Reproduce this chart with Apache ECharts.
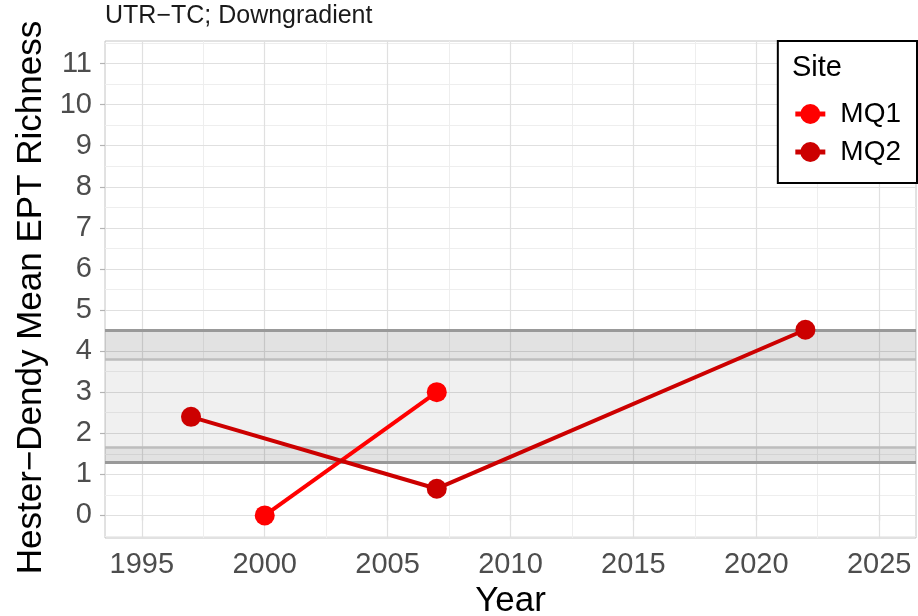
<!DOCTYPE html>
<html>
<head>
<meta charset="utf-8">
<title>Hester-Dendy Mean EPT Richness</title>
<script src="https://cdn.jsdelivr.net/npm/echarts@6/dist/echarts.min.js"></script>
<style>
  html, body { margin: 0; padding: 0; background: #fff; }
  #main { width: 918px; height: 616px; }
</style>
</head>
<body>
<div id="main"></div>
<script>
// site data
var mq1Years = [2000, 2007];
var mq1Values = [0, 3];
var mq2Years = [1997, 2007, 2022];
var mq2Values = [2.4, 0.65, 4.52];

// reference band (outer = dark edges, inner = light edges)
var bandOuter = [1.29, 4.52];
var bandInner = [1.65, 3.8];

// axis breaks
var xTicks = [1995, 2000, 2005, 2010, 2015, 2020, 2025];
var xMinor = [1997.5, 2002.5, 2007.5, 2012.5, 2017.5, 2022.5];
var yTicks = [0, 1, 2, 3, 4, 5, 6, 7, 8, 9, 10, 11];
var yMinor = [-0.5, 0.5, 1.5, 2.5, 3.5, 4.5, 5.5, 6.5, 7.5, 8.5, 9.5, 10.5, 11.5];

var FONT = "'Liberation Sans', Arial, Helvetica, sans-serif";
var myChart = echarts.init(document.getElementById('main'), null, { renderer: 'canvas' });

function toPairs (xs, ys) {
  var out = [];
  for (var i = 0; i < xs.length; i++) {
    out.push([xs[i], ys[i]]);
  }
  return out;
}

// panel grid lines, drawn as mark lines so they follow the ggplot breaks
function gridLineData () {
  var lines = [];
  var minor = { color: '#eeeeee', width: 1, type: 'solid' };
  var major = { color: '#e0e0e0', width: 1.2, type: 'solid' };
  xMinor.forEach(function (v) { lines.push({ xAxis: v, lineStyle: minor }); });
  yMinor.forEach(function (v) { lines.push({ yAxis: v, lineStyle: minor }); });
  xTicks.forEach(function (v) { lines.push({ xAxis: v, lineStyle: major }); });
  yTicks.forEach(function (v) { lines.push({ yAxis: v, lineStyle: major }); });
  return lines;
}

var option = {
  animation: false,
  backgroundColor: '#ffffff',
  grid: {
    left: 105,
    right: 2,
    top: 41,
    bottom: 78,
    containLabel: false,
    outerBoundsMode: 'none',
    show: true,
    borderColor: '#c4c4c4',
    borderWidth: 1,
    backgroundColor: '#ffffff'
  },
  graphic: [
    {
      type: 'text',
      x: 105,
      y: 16,
      style: { text: 'UTR−TC; Downgradient', font: '25px ' + FONT, fill: '#1a1a1a', verticalAlign: 'middle' }
    },
    {
      type: 'text',
      x: 792,
      y: 68,
      z: 100,
      style: { text: 'Site', font: '29px ' + FONT, fill: '#000000', verticalAlign: 'middle' }
    }
  ],
  legend: {
    data: ['MQ1', 'MQ2'],
    orient: 'vertical',
    right: 1,
    top: 41,
    z: 50,
    padding: [59, 16, 17, 15],
    itemGap: 10,
    itemWidth: 30,
    itemHeight: 25,
    borderColor: '#000000',
    borderWidth: 2,
    backgroundColor: '#ffffff',
    lineStyle: { width: 5 },
    textStyle: {
      fontFamily: FONT,
      fontSize: 28,
      color: '#000000',
      padding: [0, 0, 0, 10]
    }
  },
  xAxis: {
    type: 'value',
    min: 1993.5,
    max: 2026.5,
    name: 'Year',
    nameLocation: 'middle',
    nameGap: 46,
    nameTextStyle: { fontFamily: FONT, fontSize: 35, color: '#000000' },
    axisLine: { show: false },
    splitLine: { show: false },
    axisTick: {
      show: true,
      length: 5,
      customValues: xTicks,
      lineStyle: { color: '#b3b3b3', width: 1.2 }
    },
    axisLabel: {
      customValues: xTicks,
      margin: 12,
      fontFamily: FONT,
      fontSize: 29,
      color: '#4d4d4d',
      formatter: function (v) { return String(v); }
    }
  },
  yAxis: {
    type: 'value',
    min: -0.55,
    max: 11.55,
    name: 'Hester−Dendy Mean EPT Richness',
    nameLocation: 'middle',
    nameGap: 55,
    nameRotate: 90,
    nameTextStyle: { fontFamily: FONT, fontSize: 35, color: '#000000', padding: [0, 16, 0, 0] },
    axisLine: { show: false },
    splitLine: { show: false },
    axisTick: {
      show: true,
      length: 5,
      customValues: yTicks,
      lineStyle: { color: '#b3b3b3', width: 1.2 }
    },
    axisLabel: {
      customValues: yTicks,
      margin: 13,
      fontFamily: FONT,
      fontSize: 29,
      color: '#4d4d4d',
      formatter: function (v) { return String(v); }
    }
  },
  series: [
    {
      // grid lines
      type: 'line',
      data: [],
      silent: true,
      z: 1,
      markLine: {
        silent: true,
        z: 1,
        symbol: ['none', 'none'],
        label: { show: false },
        emphasis: { disabled: true },
        data: gridLineData()
      }
    },
    {
      // reference band
      type: 'line',
      data: [],
      silent: true,
      z: 2,
      markArea: {
        silent: true,
        z: 2,
        data: [
          [{ yAxis: bandOuter[0], itemStyle: { color: 'rgba(0,0,0,0.115)' } }, { yAxis: bandInner[0] }],
          [{ yAxis: bandInner[0], itemStyle: { color: 'rgba(0,0,0,0.06)' } }, { yAxis: bandInner[1] }],
          [{ yAxis: bandInner[1], itemStyle: { color: 'rgba(0,0,0,0.115)' } }, { yAxis: bandOuter[1] }]
        ]
      },
      markLine: {
        silent: true,
        z: 2,
        symbol: ['none', 'none'],
        label: { show: false },
        emphasis: { disabled: true },
        data: [
          { yAxis: bandInner[0], lineStyle: { color: '#bdbdbd', width: 2.5, type: 'solid' } },
          { yAxis: bandInner[1], lineStyle: { color: '#bdbdbd', width: 2.5, type: 'solid' } },
          { yAxis: bandOuter[0], lineStyle: { color: '#999999', width: 3, type: 'solid' } },
          { yAxis: bandOuter[1], lineStyle: { color: '#999999', width: 3, type: 'solid' } }
        ]
      }
    },
    {
      name: 'MQ1',
      type: 'line',
      z: 3,
      data: toPairs(mq1Years, mq1Values),
      symbol: 'circle',
      symbolSize: 20,
      color: '#ff0000',
      itemStyle: { color: '#ff0000' },
      lineStyle: { color: '#ff0000', width: 4 }
    },
    {
      name: 'MQ2',
      type: 'line',
      z: 4,
      data: toPairs(mq2Years, mq2Values),
      symbol: 'circle',
      symbolSize: 20,
      color: '#cc0000',
      itemStyle: { color: '#cc0000' },
      lineStyle: { color: '#cc0000', width: 4 }
    }
  ]
};

myChart.setOption(option);
</script>
</body>
</html>
